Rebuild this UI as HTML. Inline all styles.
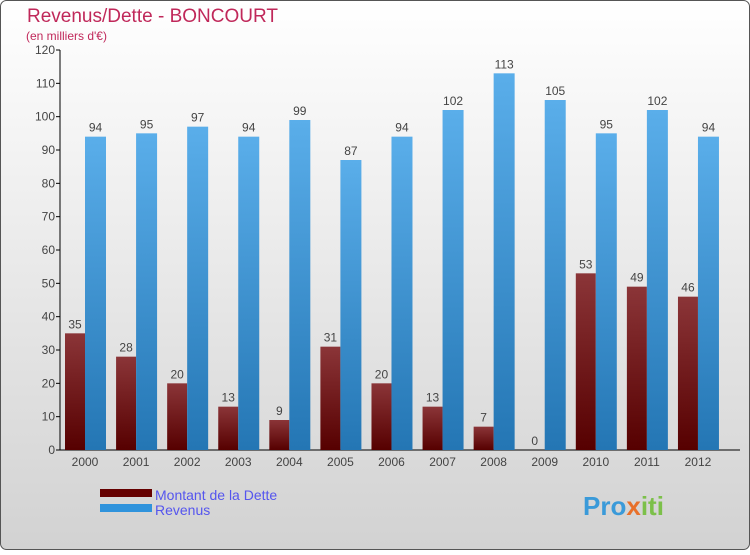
<!DOCTYPE html>
<html><head><meta charset="utf-8"><style>
body{margin:0;width:750px;height:550px;overflow:hidden;font-family:"Liberation Sans",sans-serif}
</style></head><body>
<svg id="chart" width="750" height="550" xmlns="http://www.w3.org/2000/svg">
<defs>
<linearGradient id="bg" x1="0" y1="0" x2="0" y2="1"><stop offset="0" stop-color="#ffffff"/><stop offset="1" stop-color="#d2d2d2"/></linearGradient>
<linearGradient id="gd" x1="0" y1="0" x2="0" y2="1"><stop offset="0" stop-color="#8b3538"/><stop offset="1" stop-color="#560000"/></linearGradient>
<linearGradient id="gr" x1="0" y1="0" x2="0" y2="1"><stop offset="0" stop-color="#5aaeea"/><stop offset="1" stop-color="#2476b4"/></linearGradient>
</defs>
<rect x="0.5" y="0.5" width="749" height="549" rx="6" fill="url(#bg)" stroke="#555"/>
<text x="27" y="22" font-size="19" fill="#c0285a">Revenus/Dette - BONCOURT</text>
<text x="26" y="40" font-size="12" fill="#c0285a">(en milliers d'€)</text>
<g id="axes"></g>
<g id="bars"></g>
<g>
<rect x="100" y="489" width="52" height="8" fill="#650000"/>
<text x="155" y="500" font-size="14" fill="#5555ee">Montant de la Dette</text>
<rect x="100" y="504" width="52" height="8" fill="#2f93dc"/>
<text x="155" y="515" font-size="14" fill="#5555ee">Revenus</text>
</g>
<text x="583" y="515" font-size="26" font-weight="bold" fill="#3a9ad9">Pro<tspan fill="#e8702a">x</tspan><tspan fill="#7cc04a">iti</tspan></text>
</svg>
<script>
const years=["2000","2001","2002","2003","2004","2005","2006","2007","2008","2009","2010","2011","2012"];
const dette=[35,28,20,13,9,31,20,13,7,0,53,49,46];
const revenus=[94,95,97,94,99,87,94,102,113,105,95,102,94];
const yTicks=[0,10,20,30,40,50,60,70,80,90,100,110,120];
const NS="http://www.w3.org/2000/svg";
const y0=450,yTop=50,yMax=120;
const yS=v=>y0-(v/yMax)*(y0-yTop);
const xC=i=>85+i*51.08;
const ax=document.getElementById('axes'),bars=document.getElementById('bars');
function mk(t,a,p){const e=document.createElementNS(NS,t);for(const k in a)e.setAttribute(k,a[k]);p.appendChild(e);return e;}
const yl=mk('line',{x1:60,y1:yTop,x2:60,y2:y0,stroke:'#000'},ax);


const xl=mk('line',{x1:60,y1:y0,x2:740,y2:y0,stroke:'#000'},ax);


yTicks.forEach(v=>{
 mk('line',{x1:56,x2:60,y1:yS(v),y2:yS(v),stroke:'#000'},ax);
 const t=mk('text',{x:55,y:yS(v)+4,'text-anchor':'end','font-size':12,fill:'#444'},ax);t.textContent=v;
 
 
});
years.forEach((yr,i)=>{
 const c=xC(i);
 const t=mk('text',{x:c,y:466,'text-anchor':'middle','font-size':12,fill:'#444'},ax);t.textContent=yr;
 
 
 const d=mk('rect',{x:c-20,y:yS(dette[i]),width:20,height:Math.max(y0-yS(dette[i]),0.01),fill:'url(#gd)'},bars);
 
 
 const dl=mk('text',{x:c-10,y:yS(dette[i])-5,'text-anchor':'middle','font-size':12,fill:'#444'},bars);dl.textContent=dette[i];
 
 
 const r=mk('rect',{x:c,y:yS(revenus[i]),width:21,height:y0-yS(revenus[i]),fill:'url(#gr)'},bars);
 
 
 const rl=mk('text',{x:c+10.5,y:yS(revenus[i])-5,'text-anchor':'middle','font-size':12,fill:'#444'},bars);rl.textContent=revenus[i];
 
 
});
</script>
</body></html>
